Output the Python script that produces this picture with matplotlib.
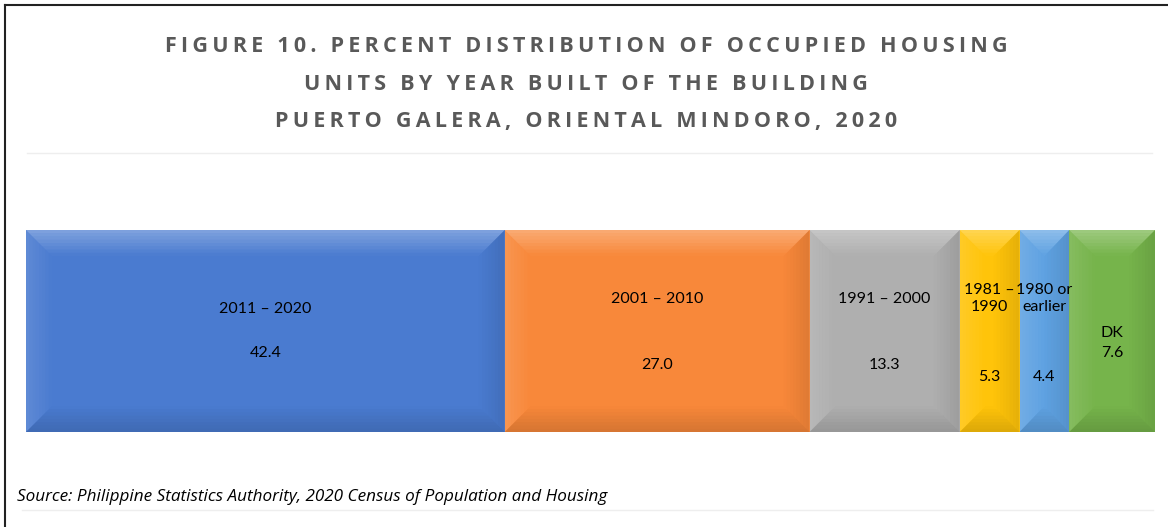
import numpy as np
import matplotlib.pyplot as plt
from matplotlib.patches import Polygon
from matplotlib.lines import Line2D

# data
categories = ["2011 – 2020", "2001 – 2010", "1991 – 2000", "1981 –\n1990", "1980 or\nearlier", "DK"]
values = [42.4, 27.0, 13.3, 5.3, 4.4, 7.6]
colors = ["#4a7bd0", "#f8883a", "#afafaf", "#ffc40a", "#5fa2e2", "#76b44b"]

title_lines = ["FIGURE 10. PERCENT DISTRIBUTION OF OCCUPIED HOUSING",
               "UNITS BY YEAR BUILT OF THE BUILDING",
               "PUERTO GALERA, ORIENTAL MINDORO, 2020"]
source = "Source: Philippine Statistics Authority, 2020 Census of Population and Housing"

# label heights inside the bar (axes fraction)
name_y = [0.61, 0.66, 0.66, 0.66, 0.66, 0.49]
val_y = [0.39, 0.33, 0.33, 0.27, 0.27, 0.39]

W, H = 1168, 527
fig = plt.figure(figsize=(W / 100, H / 100), dpi=100)
fig.patch.set_facecolor("white")

x0, x1, y0, y1 = 26, 1155, 230, 432
ax = fig.add_axes([x0 / W, 1 - y1 / H, (x1 - x0) / W, (y1 - y0) / H])
ax.set_xlim(0, 100)
ax.set_ylim(0, 1)
ax.axis("off")

lefts = np.concatenate([[0], np.cumsum(values)[:-1]])
bars = ax.barh(0.5, values, left=lefts, height=1, color=colors, linewidth=0)

# bevel effect, drawn as fading bands
b = 26
bx = b * 100 / (x1 - x0)
by = b / (y1 - y0)
n = 8
for rect in bars:
    l, w = rect.get_x(), rect.get_width()
    r = l + w
    dx = min(bx, w / 2)
    for k in range(n):
        t0, t1 = k / n, (k + 1) / n
        fade = 1 - (k + 0.5) / n
        top = [(l + dx * t0, 1 - by * t0), (r - dx * t0, 1 - by * t0),
               (r - dx * t1, 1 - by * t1), (l + dx * t1, 1 - by * t1)]
        bot = [(l + dx * t0, by * t0), (r - dx * t0, by * t0),
               (r - dx * t1, by * t1), (l + dx * t1, by * t1)]
        lft = [(l + dx * t0, by * t0), (l + dx * t0, 1 - by * t0),
               (l + dx * t1, 1 - by * t1), (l + dx * t1, by * t1)]
        rgt = [(r - dx * t0, by * t0), (r - dx * t0, 1 - by * t0),
               (r - dx * t1, 1 - by * t1), (r - dx * t1, by * t1)]
        ax.add_patch(Polygon(top, facecolor="white", alpha=0.30 * fade, linewidth=0))
        ax.add_patch(Polygon(lft, facecolor="white", alpha=0.12 * fade, linewidth=0))
        ax.add_patch(Polygon(rgt, facecolor="black", alpha=0.10 * fade, linewidth=0))
        ax.add_patch(Polygon(bot, facecolor="black", alpha=0.14 * fade, linewidth=0))

lab_font = dict(family="Lato", fontsize=11.5, color="black", ha="center", va="center")
for i, rect in enumerate(bars):
    cx = rect.get_x() + rect.get_width() / 2
    ax.text(cx, name_y[i], categories[i], linespacing=1.25, **lab_font)
    ax.text(cx, val_y[i], f"{values[i]:.1f}", **lab_font)

# title, letter spaced
for k, line in enumerate(title_lines):
    spaced = "\u2009".join(line)
    fig.text(586 / W, 1 - (47 + 37 * k) / H, spaced, ha="center", va="center",
             family=["Open Sans", "DejaVu Sans"], fontweight="bold", fontsize=15.5,
             color="#595959")

# source
fig.text(17 / W, 1 - 497 / H, source, ha="left", va="center",
         family="Open Sans", style="italic", fontsize=12.3, color="black")

# border and separator lines
fig.add_artist(Line2D([5 / W, 5 / W], [0, 1 - 5 / H], color="#222222", linewidth=1.5))
fig.add_artist(Line2D([5 / W, 1], [1 - 5 / H, 1 - 5 / H], color="#222222", linewidth=1.5))
fig.add_artist(Line2D([27 / W, 1152 / W], [1 - 153 / H] * 2, color="#eeeeee", linewidth=1))
fig.add_artist(Line2D([22 / W, 1153 / W], [1 - 510 / H] * 2, color="#eeeeee", linewidth=1))

fig.savefig("out.png", dpi=100)
